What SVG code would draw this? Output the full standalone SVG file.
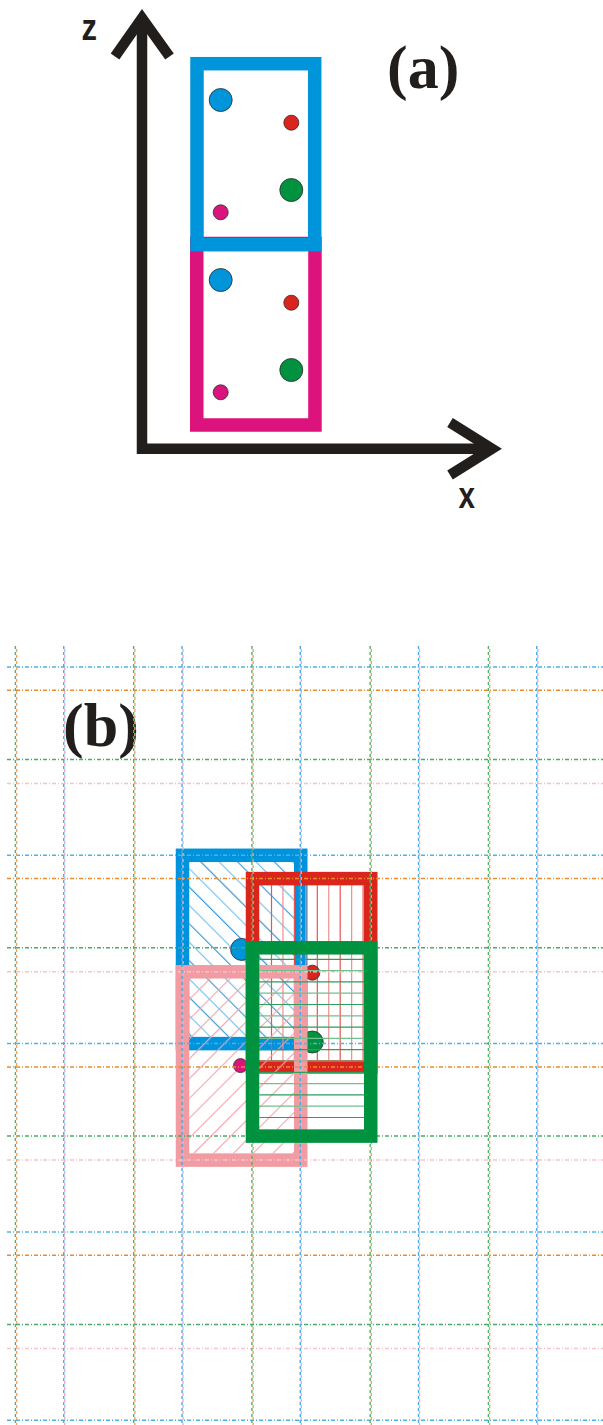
<svg xmlns="http://www.w3.org/2000/svg" width="603" height="1425" viewBox="0 0 603 1425">
<style>
.ax{fill:none;stroke:#211e1c;stroke-width:10.5;stroke-linejoin:miter;stroke-miterlimit:10;stroke-linecap:butt}
.axl{font-family:"Liberation Sans",Arial,sans-serif;font-weight:bold;font-size:37px;fill:#211e1c}
.lab{font-family:"Liberation Serif","Times New Roman",serif;font-weight:bold;font-size:62px;fill:#211e1c}
.atom{stroke:#2b2b2b;stroke-width:0.8}
.box{fill:none;stroke-width:13.5}
.hl{fill:none;stroke-width:1.5;stroke-dasharray:4 2 1 2}
.vl{fill:none;stroke-width:1.4;stroke-dasharray:3 3}
.cb{fill:#0094db}.cr{fill:#d9251d}.cg{fill:#00923f}.cm{fill:#db137d}
</style>
<defs>
<pattern id="hatchBlue" patternUnits="userSpaceOnUse" width="26" height="26" patternTransform="rotate(-45)">
<line x1="0.6" y1="0" x2="0.6" y2="26" stroke="#2a93d8" stroke-width="1.1"/>
<line x1="13.6" y1="0" x2="13.6" y2="26" stroke="#6fbfea" stroke-width="1.1"/>
</pattern>
<pattern id="hatchPink" patternUnits="userSpaceOnUse" width="14" height="14" patternTransform="rotate(45)">
<line x1="0.6" y1="0" x2="0.6" y2="14" stroke="#f2a3ab" stroke-width="1.1"/>
</pattern>
</defs>
<rect width="603" height="1425" fill="#fff"/>

<g id="panel-a">
<g id="axes">
<path class="ax" d="M142 18V448.75H492"/>
<path class="ax" d="M115 56.5L142 18L169.5 56.5"/>
<path class="ax" d="M450 422.5L492 448.75L450 475"/>
<text class="axl" x="81.5" y="40" textLength="15.5" lengthAdjust="spacingAndGlyphs">z</text>
<text class="axl" x="458.5" y="508" textLength="16.5" lengthAdjust="spacingAndGlyphs">x</text>
</g>
<text id="label-a" class="lab" x="387" y="88">(a)</text>
<g id="cell-lower">
<rect class="box" x="196.75" y="243.5" width="118.2" height="181.5" stroke="#dc137d"/>
<circle class="atom cb" cx="220.7" cy="280" r="11.5"/>
<circle class="atom cr" cx="291.3" cy="302.7" r="7.5"/>
<circle class="atom cg" cx="291.3" cy="370" r="11.5"/>
<circle class="atom cm" cx="220.7" cy="392.3" r="7.5"/>
</g>
<g id="cell-upper">
<rect class="box" x="197" y="63.7" width="117.7" height="181" stroke="#0094db" stroke-width="14"/>
<circle class="atom cb" cx="220.7" cy="100" r="11.5"/>
<circle class="atom cr" cx="291.3" cy="122.7" r="7.5"/>
<circle class="atom cg" cx="291.3" cy="190" r="11.5"/>
<circle class="atom cm" cx="220.7" cy="212.3" r="7.5"/>
</g>
</g>

<g id="panel-b">
<text id="label-b" class="lab" x="63" y="746">(b)</text>
<g id="box-blue">
<rect x="189.25" y="862.05" width="104.75" height="174.8" fill="url(#hatchBlue)"/>
<rect class="box" x="182.5" y="855.3" width="118.25" height="188.3" stroke="#0093dd"/>
</g>
<circle id="atom-blue" class="atom cb" cx="241.6" cy="949.4" r="11"/>
<g id="box-red">
<path fill="none" stroke="#e65450" stroke-width="1.2" d="M271.5 885.35V1060.15M294.4 885.35V1060.15M317.3 885.35V1060.15M340.2 885.35V1060.15M363.1 885.35V1060.15"/>
<path fill="none" stroke="#ef8f8c" stroke-width="1.2" d="M282.95 885.35V1060.15M305.85 885.35V1060.15M328.75 885.35V1060.15M351.65 885.35V1060.15"/>
<rect class="box" x="252.5" y="878.6" width="118.25" height="188.3" stroke="#da251d"/>
</g>
<circle id="atom-red" class="atom cr" cx="312.3" cy="972.7" r="7.5"/>
<circle id="atom-green" class="atom cg" cx="312.3" cy="1042" r="11"/>
<g id="box-pink">
<rect x="189.25" y="978.55" width="104.75" height="174.8" fill="url(#hatchPink)"/>
<rect class="box" x="182.5" y="971.8" width="118.25" height="188.3" stroke="#f09ca2"/>
</g>
<circle id="atom-magenta" class="atom cm" cx="240.5" cy="1065.6" r="7"/>

<g id="grid">
<path class="hl" stroke="#4db3e6" d="M7 667H603M7 855.3H603M7 1043.6H603M7 1231.9H603M7 1420.2H603"/>
<path class="hl" stroke="#ee8a2e" d="M7 690.3H603M7 878.6H603M7 1066.9H603M7 1255.2H603"/>
<path class="hl" stroke="#47ad66" d="M7 759.5H603M7 947.8H603M7 1136.1H603M7 1324.4H603"/>
<path class="hl" stroke="#f8c3c8" d="M7 783.5H603M7 971.8H603M7 1160.1H603M7 1348.4H603"/>
<path class="vl" stroke="#52b06b" d="M15.4 646V1425M133.65 646V1425M251.9 646V1425M370.15 646V1425M488.4 646V1425"/>
<path class="vl" stroke="#f2a25a" stroke-dashoffset="3" d="M16.6 646V1425M134.85 646V1425M253.1 646V1425M371.35 646V1425M489.6 646V1425"/>
<path class="vl" stroke="#4aaae0" d="M63.75 646V1425M182 646V1425M300.25 646V1425M418.5 646V1425M536.75 646V1425"/>
<path class="vl" stroke="#f2abbc" stroke-dashoffset="3" d="M64.75 646V1425M183 646V1425M301.25 646V1425M419.5 646V1425M537.75 646V1425"/>
</g>

<g id="box-green">
<path fill="none" stroke="#2e9e5b" stroke-width="1.2" d="M259.25 959.3H364M259.25 981.9H364M259.25 1004.5H364M259.25 1027.1H364M259.25 1049.7H364M259.25 1072.3H364M259.25 1094.9H364M259.25 1117.5H364"/>
<path fill="none" stroke="#72c08e" stroke-width="1.2" d="M259.25 970.6H364M259.25 993.2H364M259.25 1015.8H364M259.25 1038.4H364M259.25 1061H364M259.25 1083.6H364M259.25 1106.2H364"/>
<rect class="box" x="252.5" y="947.8" width="118.25" height="188.3" stroke="#00923f"/>
</g>
</g>
</svg>
